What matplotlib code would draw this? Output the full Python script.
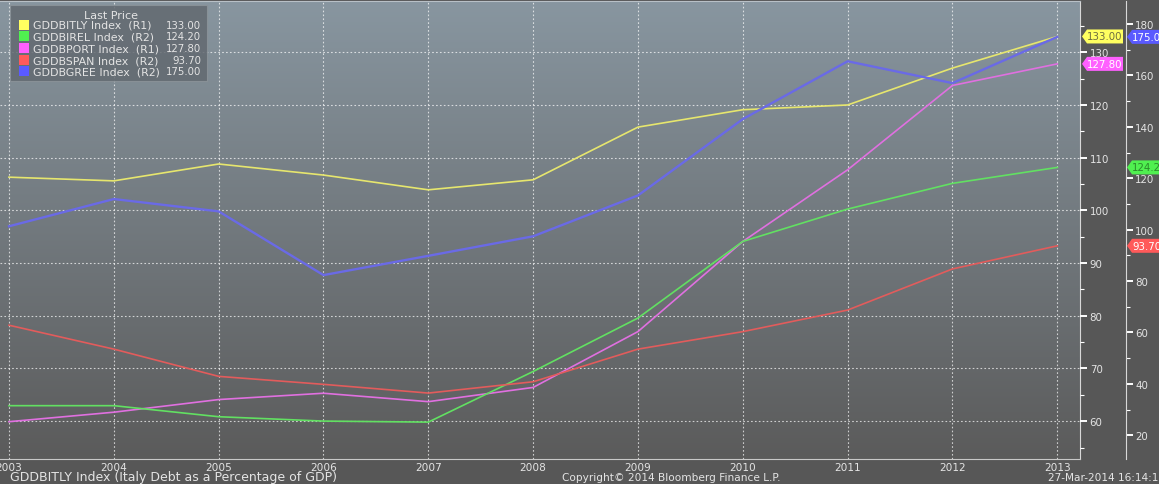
import matplotlib.pyplot as plt
import numpy as np
from matplotlib.colors import LinearSegmentedColormap
from matplotlib.patches import Polygon, Rectangle
from matplotlib.ticker import MultipleLocator

# dados anuais de dívida / PIB (%)
anos = list(range(2003, 2014))
italia = [106.3, 105.6, 108.8, 106.7, 103.9, 105.8, 115.8, 119.1, 120.0, 127.0, 133.0]
irlanda = [31.5, 31.5, 27.2, 25.5, 25.1, 44.8, 65.6, 95.4, 108.0, 118.0, 124.2]
portugal = [59.9, 61.7, 64.1, 65.3, 63.7, 66.4, 77.0, 94.1, 107.7, 123.7, 127.8]
espanha = [62.8, 53.5, 42.9, 39.8, 36.4, 40.8, 53.5, 60.3, 68.7, 84.7, 93.7]
grecia = [101.3, 111.9, 107.1, 82.3, 89.8, 97.4, 113.3, 143.0, 165.5, 157.0, 175.0]

tickers = ["GDDBITLY", "GDDBIREL", "GDDBPORT", "GDDBSPAN", "GDDBGREE"]
eixos = ["R1", "R2", "R1", "R2", "R2"]
series = [italia, irlanda, portugal, espanha, grecia]

cores_linha = ["#e6e66e", "#62e062", "#e070e0", "#e25c5c", "#6a6ae6"]
cores_legenda = ["#ffff60", "#50f050", "#ff60ff", "#ff5a5a", "#5a5aff"]
cores_texto_tag = ["#6e6e40", "#2a8a2a", "white", "white", "white"]

W, H = 1159, 485
FUNDO = "#575757"
TEXTO = "#e4e4e4"
PX_ANO = 104.78  # largura de um ano no eixo x, em pixels

fig = plt.figure(figsize=(W / 100, H / 100), dpi=100, facecolor=FUNDO)
ax = fig.add_axes([0, 25 / H, 1080 / W, 458 / H])
ax2 = ax.twinx()


def fx(x):
    return x / W


def fy(y):
    return 1 - y / H


# fundo em degradê da área do gráfico
degrade = LinearSegmentedColormap.from_list("fundo", ["#5b5b5b", "#8896a0"])
ax.imshow(np.linspace(0, 1, 256).reshape(-1, 1), cmap=degrade, origin="lower",
          extent=[0, 1, 0, 1], transform=ax.transAxes, aspect="auto", zorder=0)

for valores, eixo, cor, nome in zip(series, eixos, cores_linha, tickers):
    alvo = ax if eixo == "R1" else ax2
    lw = 1.7 if nome == "GDDBGREE" else 1.2
    alvo.plot(anos, valores, color=cor, lw=lw, zorder=3)

ax.set_xlim(2003 - 9 / PX_ANO, 2013 + 22.7 / PX_ANO)
ax.set_ylim(52.82, 139.73)
ax2.set_ylim(10.75, 188.95)

ax.set_xticks(anos)
ax.set_xticklabels([str(a) for a in anos])
ax.yaxis.set_major_locator(MultipleLocator(10))
ax.yaxis.set_minor_locator(MultipleLocator(5))
ax2.yaxis.set_major_locator(MultipleLocator(20))
ax2.yaxis.set_minor_locator(MultipleLocator(10))

ax.grid(True, which="major", color="white", lw=0.8, ls=(0, (1.5, 2)), alpha=0.7)
ax.set_axisbelow(False)

ax.tick_params(axis="x", length=0, pad=2, labelsize=7.6, colors=TEXTO)
ax.tick_params(axis="y", which="both", left=False, labelleft=False, right=True,
               labelright=True, direction="out", colors="white", labelcolor=TEXTO)
ax.tick_params(axis="y", which="major", length=5, width=1.4, labelsize=7.4, pad=2)
ax.tick_params(axis="y", which="minor", length=3, width=0.8)

ax2.spines["right"].set_position(("axes", 1125.5 / 1080))
ax2.tick_params(axis="y", which="both", direction="out", colors="white", labelcolor=TEXTO)
ax2.tick_params(axis="y", which="major", length=5, width=1.4, labelsize=7.4, pad=2)
ax2.tick_params(axis="y", which="minor", length=3, width=0.8)

ax.spines["left"].set_visible(False)
ax.spines["top"].set_color("#b8c0c6")
ax.spines["top"].set_linewidth(0.8)
ax.spines["right"].set_color("#d8d8d8")
ax.spines["bottom"].set_color("#c8c8c8")
for nome in ["left", "top", "bottom"]:
    ax2.spines[nome].set_visible(False)
ax2.spines["right"].set_color("#d8d8d8")

# etiquetas com o último valor de cada série, junto ao eixo correspondente
for valores, eixo, cor, cor_txt in zip(series, eixos, cores_legenda, cores_texto_tag):
    alvo = ax if eixo == "R1" else ax2
    ultimo = valores[-1]
    y_disp = alvo.transData.transform((2013, ultimo))[1]
    yc = y_disp / H
    x0 = 1082 if eixo == "R1" else 1127
    x1 = 1123 if eixo == "R1" else 1175
    h = 7 / H
    vertices = [(fx(x0), yc), (fx(x0 + 5), yc + h), (fx(x1), yc + h),
                (fx(x1), yc - h), (fx(x0 + 5), yc - h)]
    fig.patches.append(Polygon(vertices, closed=True, transform=fig.transFigure,
                               facecolor=cor, edgecolor="none", zorder=5))
    fig.text(fx(x0 + 5), yc, f"{ultimo:.2f}", color=cor_txt, fontsize=7.4,
             ha="left", va="center", zorder=6)

# caixa de legenda "Last Price"
fig.patches.append(Rectangle((fx(10), fy(82)), fx(197), 76 / H,
                             transform=fig.transFigure, facecolor="#626970",
                             edgecolor="#8c949a", lw=0.8, alpha=0.85, zorder=4))
fig.text(fx(111), fy(16), "Last Price", color=TEXTO, fontsize=8,
         ha="center", va="center", zorder=6)
linhas_y = [25.7, 37.3, 49.3, 61.0, 72.3]
for yl, nome, eixo, cor, valores in zip(linhas_y, tickers, eixos, cores_legenda, series):
    fig.patches.append(Rectangle((fx(19), fy(yl + 5)), fx(10), 10 / H,
                                 transform=fig.transFigure, facecolor=cor,
                                 edgecolor="none", zorder=5))
    fig.text(fx(33), fy(yl), f"{nome} Index  ({eixo})", color=TEXTO, fontsize=7.9,
             ha="left", va="center", zorder=6)
    fig.text(fx(201), fy(yl), f"{valores[-1]:.2f}", color=TEXTO, fontsize=7.3,
             ha="right", va="center", zorder=6)

# rodapé
fig.text(fx(10), fy(478), "GDDBITLY Index (Italy Debt as a Percentage of GDP)",
         color=TEXTO, fontsize=9, ha="left", va="center")
fig.text(fx(671), fy(478), "Copyright\u00a9 2014 Bloomberg Finance L.P.",
         color=TEXTO, fontsize=7.6, ha="center", va="center")
fig.text(fx(1048), fy(478), "27-Mar-2014 16:14:15",
         color=TEXTO, fontsize=7.6, ha="left", va="center")

fig.savefig("out.png", dpi=100, facecolor=FUNDO)
